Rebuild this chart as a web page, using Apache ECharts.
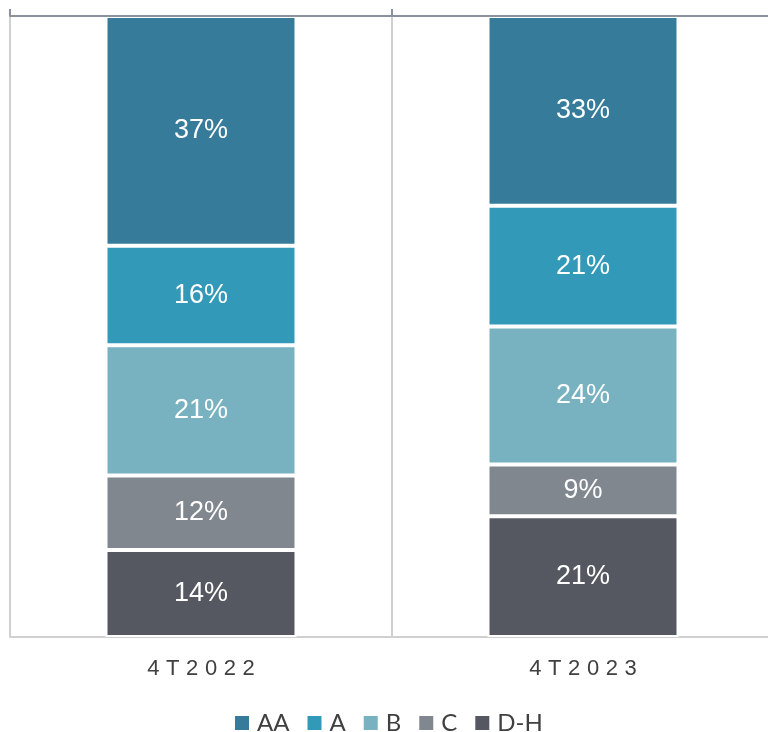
<!DOCTYPE html>
<html>
<head>
<meta charset="utf-8">
<script src="https://cdn.jsdelivr.net/npm/echarts@6/dist/echarts.min.js"></script>
<style>
html,body{margin:0;padding:0;background:#fff;overflow:hidden;}
#chart{width:768px;height:732px;}
</style>
</head>
<body>
<div id="chart"></div>
<script>
const categories = ['4T2022', '4T2023'];
const seriesNames = ['D-H', 'C', 'B', 'A', 'AA'];
const valuesDH = [14, 21];
const valuesC = [12, 9];
const valuesB = [21, 24];
const valuesA = [16, 21];
const valuesAA = [37, 33];
const colors = {'AA': '#367c9a', 'A': '#3399b8', 'B': '#78b2c0', 'C': '#80878f', 'D-H': '#555861'};

const raw = {'D-H': valuesDH, 'C': valuesC, 'B': valuesB, 'A': valuesA, 'AA': valuesAA};
const totals = categories.map((c, i) => seriesNames.reduce((s, n) => s + raw[n][i], 0));

const series = seriesNames.map(name => ({
  name: name,
  type: 'bar',
  stack: 'total',
  barWidth: 191,
  data: raw[name].map((v, i) => ({value: v / totals[i] * 100, raw: v})),
  itemStyle: {color: colors[name], borderColor: '#ffffff', borderWidth: 2},
  label: {
    show: true,
    position: 'inside',
    color: '#ffffff',
    fontFamily: 'Liberation Sans, Arial, sans-serif',
    fontSize: 27,
    formatter: p => p.data.raw + '%'
  }
}));

const chart = echarts.init(document.getElementById('chart'));
chart.setOption({
  animation: false,
  grid: {left: 10, top: 16, right: -6, bottom: 95, containLabel: false, outerBoundsMode: 'none'},
  legend: {
    data: ['AA', 'A', 'B', 'C', 'D-H'],
    left: 230,
    top: 706,
    itemWidth: 14,
    itemHeight: 14,
    itemGap: 18,
    icon: 'rect',
    itemStyle: {borderWidth: 0},
    textStyle: {fontFamily: 'Lato, sans-serif', fontSize: 24, color: '#404040', padding: [0, 0, 0, 3]}
  },
  xAxis: [
    {
      type: 'category',
      data: categories,
      position: 'bottom',
      axisLine: {lineStyle: {color: '#d0d0d0', width: 2}},
      axisTick: {show: false},
      splitLine: {show: true, lineStyle: {color: '#d0d0d0', width: 2}},
      axisLabel: {
        margin: 21,
        fontSize: 22,
        fontFamily: 'Liberation Sans, Arial, sans-serif',
        color: '#404040',
        formatter: v => v.split('').map(ch => '{s|' + ch + '}').join(''),
        rich: {s: {fontFamily: 'Liberation Sans, Arial, sans-serif', fontSize: 22, color: '#404040', padding: [0, 3.3]}}
      }
    },
    {
      type: 'category',
      data: categories,
      position: 'top',
      z: 10,
      axisLine: {lineStyle: {color: '#8a939b', width: 2}},
      axisTick: {show: true, length: 7, lineStyle: {color: '#8a939b', width: 2}},
      axisLabel: {show: false},
      splitLine: {show: false}
    }
  ],
  yAxis: {type: 'value', min: 0, max: 100, show: false},
  series: series
});
</script>
</body>
</html>
